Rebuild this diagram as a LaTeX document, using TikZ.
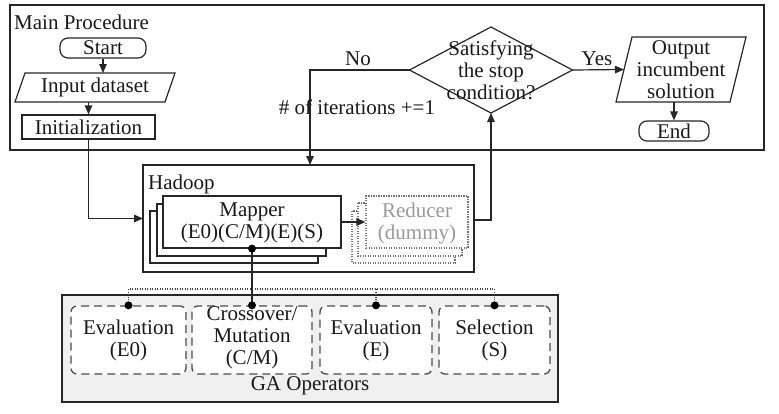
\documentclass[tikz,border=0pt]{standalone}
\usepackage{fontspec}
\setmainfont{Liberation Serif}
\newfontfamily\tnr{Liberation Serif}
\usetikzlibrary{arrows.meta,shapes.geometric,calc}
\begin{document}
\begin{tikzpicture}[x=1pt,y=-1pt,
  txt/.style={font=\tnr\fontsize{21}{22}\selectfont, align=center, inner sep=0pt, text=black!90},
  ln/.style={draw=black!85, line width=1.2pt},
  arr/.style={ln, -{Triangle[length=9pt,width=7.5pt]}},
  boxsh/.style={ln, inner sep=0pt, fill=white},
  ghost/.style={inner sep=0pt, outer sep=0pt},
  dashbox/.style={draw=black!70, line width=1.3pt, dash pattern=on 8pt off 5pt, rounded corners=6pt, fill=white, minimum height=68pt, inner sep=0pt},
  dotbox/.style={draw=black!55, line width=1.1pt, dash pattern=on 1.2pt off 1.3pt, fill=white},
  dotln/.style={draw=black!75, line width=1.1pt, dash pattern=on 1.2pt off 1.3pt},
  dotmark/.style={fill=black},
]
\useasboundingbox (0,0) rectangle (779,413);

% ---------- Main procedure ----------
\node[ghost, draw=black!85, line width=1.6pt, minimum width=754pt, minimum height=145pt] (mainbox) at (387,77.5) {};
\node[txt, anchor=west] (maintitle) at (14,22) {Main Procedure};

\node[boxsh, rounded corners=8pt, minimum width=86pt, minimum height=20pt] (start) at (103,48) {};
\node[txt] (starttxt) at (start.center) {Start};

\node[ghost, minimum width=150pt, minimum height=29pt] (input) at (95,87.5) {};
\draw[ln] ($(input.north west)+(5,0)$) -- ($(input.north east)+(5,0)$) -- ($(input.south east)+(-5,0)$) -- ($(input.south west)+(-5,0)$) -- cycle;
\node[txt] (inputtxt) at (input.center) {Input dataset};

\node[boxsh, minimum width=133pt, minimum height=24pt] (init) at (88.5,127) {};
\node[txt] (inittxt) at (init.center) {Initialization};

\draw[arr] (start.south) -- (start.south |- input.north);
\draw[arr] (init.north |- input.south) -- (init.north);

% decision
\node[ghost, diamond, draw=black!85, line width=1.2pt, minimum width=163pt, minimum height=86pt] (cond) at (491,70) {};
\node[txt] (condtxt) at (491,70) {Satisfying\\the stop\\condition?};

% output
\node[ghost, minimum width=114pt, minimum height=65pt] (out) at (681,69.5) {};
\draw[ln] ($(out.north west)+(8,0)$) -- ($(out.north east)+(8,0)$) -- ($(out.south east)+(-8,0)$) -- ($(out.south west)+(-8,0)$) -- cycle;
\node[txt] (outtxt) at (out.center) {Output\\incumbent\\solution};

\node[boxsh, rounded corners=8pt, minimum width=70pt, minimum height=20pt] (end) at (674,131) {};
\node[txt] (endtxt) at (end.center) {End};
\draw[arr] (end.north |- out.south) -- (end.north);

\draw[arr] (cond.east) -- (out.west);
\node[txt] (yes) at (597,59) {Yes};

% ---------- Hadoop ----------
\node[ghost, draw=black!85, line width=1.3pt, minimum width=331pt, minimum height=107pt] (hadoop) at (308.5,218.5) {};
\node[txt, anchor=west] (hadooptitle) at (148,184) {Hadoop};

\draw[boxsh] (150,211) rectangle (318,263);
\draw[boxsh] (157,204) rectangle (326,256);
\node[boxsh, minimum width=178pt, minimum height=52pt] (mapper) at (252,222) {};
\node[txt] (mappertxt) at (252,223) {Mapper\\(E0)(C/M)(E)(S)};

\draw[dotbox] (352,211) rectangle (455,263);
\draw[dotbox] (358,203) rectangle (462,256);
\node[dotbox, inner sep=0pt, minimum width=102pt, minimum height=52pt] (reducer) at (417,222) {};
\node[txt, text=black!40] (reducertxt) at (417,223) {Reducer\\(dummy)};

\draw[arr] (mapper.east) -- (reducer.west);
\draw[arr] (init.south) |- (hadoop.west);

\coordinate (nocorner) at (310,70);
\draw[arr] (cond.west) -- (nocorner) -- (nocorner |- hadoop.north);
\node[txt] (no) at (358,59) {No};
\node[txt, fill=white, inner sep=0pt] (iter) at (357,107) {\# of iterations +=1};
\draw[ln] (310,96) -- (310,118);

\coordinate (upcorner) at (491,220);
\draw[arr] (hadoop.east |- upcorner) -- (upcorner) -- (cond.south);

% ---------- GA operators ----------
\node[ghost, draw=black!85, line width=1.3pt, fill=black!6, minimum width=496pt, minimum height=107pt] (ga) at (310,348.5) {};
\node[txt] (gatitle) at (310,386) {GA Operators};

\node[dashbox, minimum width=115pt] (e0) at (128.5,340) {};
\node[txt] (e0txt) at (e0.center) {Evaluation\\(E0)};
\node[dashbox, minimum width=120pt] (cm) at (252,340) {};
\node[txt] (cmtxt) at (252,338) {Crossover/\\Mutation\\(C/M)};
\node[dashbox, minimum width=112pt] (ev) at (376,340) {};
\node[txt] (evtxt) at (ev.center) {Evaluation\\(E)};
\node[dashbox, minimum width=111pt] (sel) at (494.5,340) {};
\node[txt] (seltxt) at (sel.center) {Selection\\(S)};

\coordinate (busy) at (0,289);
\draw[dotln] (e0.north) -- (e0.north |- busy) -- (sel.north |- busy) -- (sel.north);
\draw[dotln] (ev.north |- busy) -- (ev.north);
\draw[ln] (mapper.south) -- (cm.north);

\fill[dotmark] (mapper.south) circle (4);
\fill[dotmark] (e0.north) circle (4);
\fill[dotmark] (cm.north) circle (4);
\fill[dotmark] (ev.north) circle (4);
\fill[dotmark] (sel.north) circle (4);
\end{tikzpicture}
\end{document}
